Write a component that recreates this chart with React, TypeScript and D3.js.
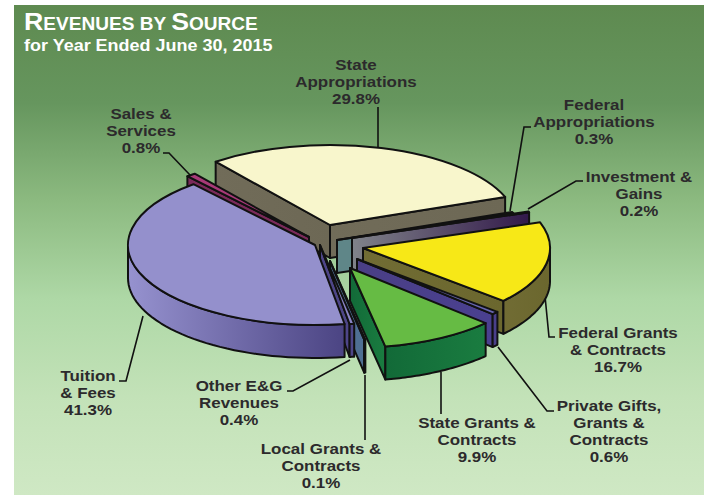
import React from "react";
import * as d3 from "d3";

// ---- data ----
const sources = ["Tuition & Fees","Sales & Services","State Appropriations","Federal Appropriations","Investment & Gains","Federal Grants & Contracts","Private Gifts, Grants & Contracts","State Grants & Contracts","Local Grants & Contracts","Other E&G Revenues"];
const shares = [41.3, 0.8, 29.8, 0.3, 0.2, 16.7, 0.6, 9.9, 0.1, 0.4];
const labelLines = [
  ["Tuition","& Fees","41.3%"],
  ["Sales &","Services","0.8%"],
  ["State","Appropriations","29.8%"],
  ["Federal","Appropriations","0.3%"],
  ["Investment &","Gains","0.2%"],
  ["Federal Grants","& Contracts","16.7%"],
  ["Private Gifts,","Grants &","Contracts","0.6%"],
  ["State Grants &","Contracts","9.9%"],
  ["Local Grants &","Contracts","0.1%"],
  ["Other E&G","Revenues","0.4%"],
];

// ---- styling / layout ----
const W = 704, H = 495;
const RX = 187, RY = 80, DEPTH = 33;
const CX = 335, CY = 245;
const explodeX = [-20, -26, -5, 2, 17, 28, 22, 15, -5, -15];
const explodeY = [0, -8, -20, -5, -7, 3, 14, 23, 16, 0];
const topFill = ["#9490cc","#a83a78","#f8f6cc","#4d8a8a","#3d1f52","#f7e817","#6866b0","#66bb44","#8899bb","#8a84c4"];
const wallFrom = ["#9692cf","#7a2a5a","#716c59","#5f8688","#80838a","#716c34","#4a3f85","#126a38","#4f6f93","#4e4688"];
const wallTo = ["#4b4483","#7a2a5a","#6d6855","#5f8688","#32194a","#6b672e","#4a4090","#1a7c40","#4f6f93","#4e4688"];
const drawOrder = [2, 1, 3, 4, 5, 6, 8, 9, 0, 7];
const labelX = [88, 141, 356, 594, 639, 618, 609, 477, 321, 239];
const labelY = [381, 119, 70, 110, 182, 338, 411, 428, 454, 391];
const leaders = [
  [[119,381],[126,381],[143,316]],
  [[163,153],[169,153],[190,175]],
  [[378,107],[378,149]],
  [[531,127],[524,127],[510,211]],
  [[583,181],[576,181],[528,209]],
  [[555,337],[549,337],[545,296]],
  [[554,411],[547,411],[498,347]],
  [[441,414],[441,372]],
  [[365,440],[365,375]],
  [[287,391],[293,391],[350,360]],
];
const bgStops: [number, string][] = [[0,"#5e8a50"],[0.2,"#66965e"],[0.4,"#8cba80"],[0.6,"#aed8a6"],[0.8,"#c3e2b8"],[1,"#cfe8c4"]];
const INK = "#2c2a2c";
const FONT = "'Liberation Sans', Arial, sans-serif";

const deg = Math.PI / 180;
const pie = d3.pie<number>().sort(null).value(v => v).startAngle(170.9 * deg).endAngle(530.9 * deg);
const arcs = pie(shares);
const topArc = d3.arc<d3.PieArcDatum<number>>().innerRadius(0).outerRadius(RX);
const outline = d3.line<[number, number]>();
const sx = d3.scaleLinear().domain([-1, 1]).range([-RX, RX]);
const sy = d3.scaleLinear().domain([-1, 1]).range([-RY, RY]);

function pt(i: number, t: number, drop = 0): [number, number] {
  return [CX + explodeX[i] + sx(Math.sin(t)), CY + explodeY[i] + sy(-Math.cos(t)) + drop];
}
function apex(i: number, drop = 0): [number, number] {
  return [CX + explodeX[i], CY + explodeY[i] + drop];
}
function radialWall(i: number, t: number) {
  return outline([apex(i), pt(i, t), pt(i, t, DEPTH), apex(i, DEPTH)]) + "Z";
}
function outerWall(i: number, a0: number, a1: number) {
  const shift = a0 >= 2 * Math.PI ? 2 * Math.PI : 0;
  const s = Math.max(a0 - shift, 90 * deg), e = Math.min(a1 - shift, 270 * deg);
  if (e <= s) return null;
  const ts = d3.range(0, 41).map(k => s + ((e - s) * k) / 40);
  const upper = ts.map(t => pt(i, t));
  const lower = ts.slice().reverse().map(t => pt(i, t, DEPTH));
  return outline([...upper, ...lower]) + "Z";
}

export default function App() {
  const stroke = { stroke: "#111", strokeWidth: 2, strokeLinejoin: "round" as const };
  return (
    <svg width={W} height={H} viewBox={`0 0 ${W} ${H}`} style={{ position: "absolute", left: 0, top: 0 }}>
      <defs>
        <linearGradient id="bg" x1="0" y1="0" x2="0" y2="1">
          {bgStops.map(([o, c]) => <stop key={o} offset={o} stopColor={c} />)}
        </linearGradient>
        {sources.map((_, i) => (
          <linearGradient key={i} id={`wall${i}`} x1="0" y1="0" x2="1" y2="0">
            <stop offset="0" stopColor={wallFrom[i]} />
            <stop offset="1" stopColor={wallTo[i]} />
          </linearGradient>
        ))}
      </defs>
      <rect x={14} y={5} width={W - 14} height={H - 5} fill="url(#bg)" />

      {leaders.map((l, i) => (
        <path key={i} d={outline(l as [number, number][]) ?? ""} fill="none" stroke="#111" strokeWidth={1.6} />
      ))}

      {drawOrder.map(i => {
        const a = arcs[i];
        const oWall = outerWall(i, a.startAngle, a.endAngle);
        const [ax, ay] = apex(i);
        return (
          <g key={sources[i]}>
            {Math.sin(a.startAngle) < 0 && <path d={radialWall(i, a.startAngle)} fill={`url(#wall${i})`} {...stroke} />}
            {Math.sin(a.endAngle) > 0 && <path d={radialWall(i, a.endAngle)} fill={`url(#wall${i})`} {...stroke} />}
            {oWall && <path d={oWall} fill={`url(#wall${i})`} {...stroke} />}
            <g transform={`translate(${ax},${ay}) scale(1,${RY / RX})`}>
              <path d={topArc(a) ?? ""} fill={topFill[i]} {...stroke} vectorEffect="non-scaling-stroke" />
            </g>
          </g>
        );
      })}

      <g fontFamily={FONT} fontWeight={700} fontSize={15} fill={INK} textAnchor="middle">
        {labelLines.map((lines, i) => (
          <text key={i} transform={`translate(${labelX[i]},${labelY[i]}) scale(1.13,1)`}>
            {lines.map((s, j) => <tspan key={j} x={0} dy={j === 0 ? 0 : 17}>{s}</tspan>)}
          </text>
        ))}
      </g>

      <g fontFamily={FONT} fontWeight={700} fill="#fff">
        <text transform="translate(24,30) scale(1.09,1)" fontSize={17.5}>
          <tspan fontSize={24.5}>R</tspan>EVENUES BY <tspan fontSize={24.5}>S</tspan>OURCE
        </text>
        <text transform="translate(24,51) scale(1.09,1)" fontSize={16.5}>for Year Ended June 30, 2015</text>
      </g>
    </svg>
  );
}
